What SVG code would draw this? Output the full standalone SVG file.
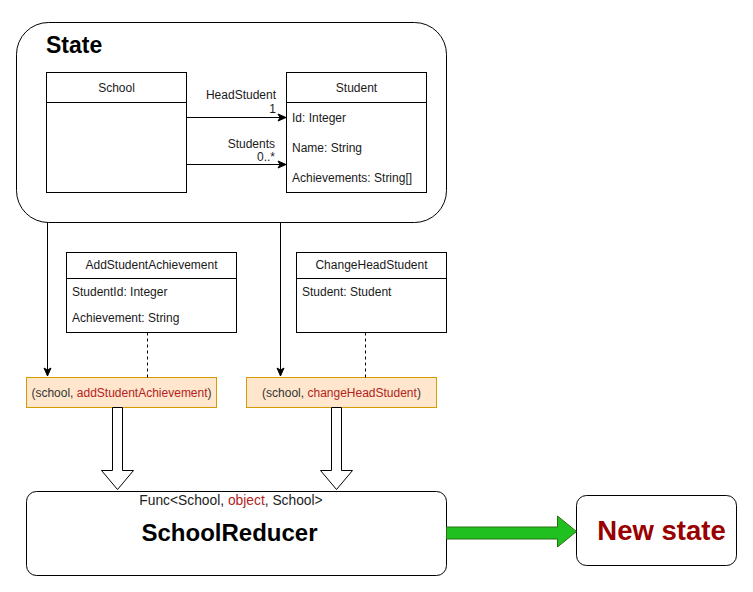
<svg xmlns="http://www.w3.org/2000/svg" width="753" height="592" viewBox="0 0 753 592">
<defs>
<marker id="arr" markerWidth="10" markerHeight="10" refX="9" refY="5" orient="auto" markerUnits="userSpaceOnUse">
<path d="M1,1.5 L9,5 L1,8.5 L3,5 Z" fill="#000" stroke="#000" stroke-width="1"/>
</marker>
</defs>
<style>
text{font-family:"Liberation Sans",Arial,sans-serif;font-size:12px;fill:#1a1a1a}
.box{fill:#fff;stroke:#000;stroke-width:1}
.c{text-anchor:middle}
.r{text-anchor:end}
.op{fill:#ffe6cc;stroke:#d79b00;stroke-width:1}
.red{fill:#b22222}
.ln{stroke:#000;stroke-width:1;fill:none}
</style>
<rect width="753" height="592" fill="#fff"/>
<g id="state">
<rect class="box" x="16.5" y="22.5" width="430" height="200" rx="32" ry="32"/>
<text x="46" y="53" style="font-size:23px;font-weight:bold;fill:#000">State</text>
</g>
<g id="school">
<rect class="box" x="46.5" y="72.5" width="140" height="120"/>
<line class="ln" x1="46.5" y1="102.5" x2="186.5" y2="102.5"/>
<text class="c" x="116.5" y="92">School</text>
</g>
<g id="student">
<rect class="box" x="286.5" y="72.5" width="140" height="120"/>
<line class="ln" x1="286.5" y1="102.5" x2="426.5" y2="102.5"/>
<text class="c" x="356.5" y="92">Student</text>
<text x="292" y="122">Id: Integer</text>
<text x="292" y="152">Name: String</text>
<text x="292" y="182">Achievements: String[]</text>
</g>
<g id="addStudentAchievement">
<rect class="box" x="66.5" y="252.5" width="170" height="80"/>
<line class="ln" x1="66.5" y1="278.5" x2="236.5" y2="278.5"/>
<text class="c" x="151.5" y="269">AddStudentAchievement</text>
<text x="72" y="296">StudentId: Integer</text>
<text x="72" y="322">Achievement: String</text>
</g>
<g id="changeHeadStudent">
<rect class="box" x="296.5" y="252.5" width="150" height="80"/>
<line class="ln" x1="296.5" y1="278.5" x2="446.5" y2="278.5"/>
<text class="c" x="371.5" y="269">ChangeHeadStudent</text>
<text x="302" y="296">Student: Student</text>
</g>
<g id="call1">
<rect class="op" x="26.5" y="377.5" width="190" height="30"/>
<text class="c" x="121.5" y="397" style="fill:#333">(school, <tspan class="red">addStudentAchievement</tspan>)</text>
</g>
<g id="call2">
<rect class="op" x="246.5" y="377.5" width="190" height="30"/>
<text class="c" x="341.5" y="397" style="fill:#333">(school, <tspan class="red">changeHeadStudent</tspan>)</text>
</g>
<g id="schoolReducer">
<rect class="box" x="26.5" y="491.5" width="420" height="84" rx="10" ry="10"/>
<text class="c" x="231" y="505" style="font-size:13.8px;fill:#222">Func&lt;School, <tspan class="red">object</tspan>, School&gt;</text>
<text class="c" x="229.5" y="541" style="font-size:24px;font-weight:bold;fill:#000">SchoolReducer</text>
</g>
<g id="newState">
<rect class="box" x="576.5" y="495.5" width="160" height="70" rx="10" ry="10"/>
<text class="c" x="661.5" y="539.5" style="font-size:27.5px;font-weight:bold;fill:#990000">New state</text>
</g>
<g id="connectors">
<line class="ln" x1="186.5" y1="117.5" x2="286" y2="117.5" marker-end="url(#arr)"/>
<text class="r" x="276" y="99">HeadStudent</text>
<text class="r" x="276" y="113">1</text>
<line class="ln" x1="186.5" y1="164.5" x2="286" y2="164.5" marker-end="url(#arr)"/>
<text class="r" x="275" y="148">Students</text>
<text class="r" x="275" y="161">0..*</text>
<line class="ln" x1="47.5" y1="222.5" x2="47.5" y2="376" marker-end="url(#arr)"/>
<line class="ln" x1="280.5" y1="222.5" x2="280.5" y2="376" marker-end="url(#arr)"/>
<line class="ln" x1="147.5" y1="332.5" x2="147.5" y2="377.5" stroke-dasharray="3,3"/>
<line class="ln" x1="365.5" y1="332.5" x2="365.5" y2="377.5" stroke-dasharray="3,3"/>
<path class="box" d="M112.5,407.5 L122.5,407.5 L122.5,470.5 L133.5,470.5 L117.5,489.5 L101.5,470.5 L112.5,470.5 Z"/>
<path class="box" d="M331.5,407.5 L341.5,407.5 L341.5,470.5 L352.5,470.5 L336.5,489.5 L320.5,470.5 L331.5,470.5 Z"/>
<path d="M446.5,527 L557.5,527 L557.5,516 L576.5,531.5 L557.5,547 L557.5,539 L446.5,539 Z" fill="#1fc01f" stroke="#2d6e0e" stroke-width="1"/>
</g>
</svg>
